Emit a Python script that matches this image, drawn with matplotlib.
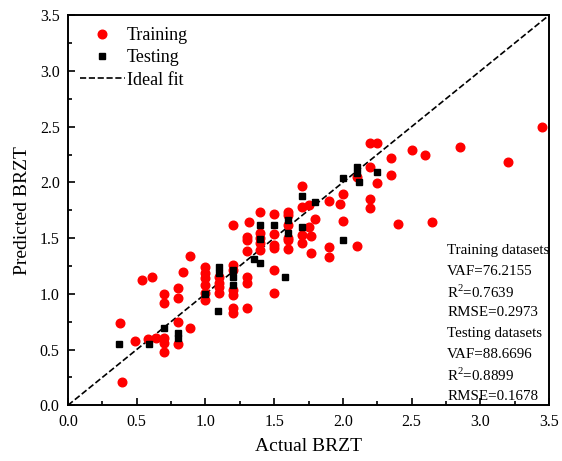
import matplotlib
matplotlib.use('Agg')
import matplotlib.pyplot as plt
from matplotlib.ticker import MultipleLocator

plt.rcParams['font.family'] = ['Liberation Serif', 'DejaVu Serif']
plt.rcParams['mathtext.fontset'] = 'custom'
plt.rcParams['mathtext.rm'] = 'Liberation Serif'

# training points (actual, predicted)
train_x = [0.38, 0.39, 0.49, 0.54, 0.61, 0.58, 0.64,
           0.70, 0.70, 0.70, 0.70, 0.70,
           0.80, 0.80, 0.80, 0.80,
           0.84, 0.89, 0.89,
           1.00, 1.00, 1.00, 1.00, 1.00, 1.00,
           1.10, 1.10, 1.10, 1.10,
           1.20, 1.20, 1.20, 1.20, 1.20, 1.20,
           1.30, 1.30, 1.30, 1.30, 1.30, 1.30,
           1.20, 1.32,
           1.40, 1.40, 1.40, 1.40, 1.40,
           1.50, 1.50, 1.50, 1.50, 1.50, 1.50,
           1.60, 1.60, 1.60, 1.60, 1.60, 1.60,
           1.70, 1.70, 1.70, 1.70,
           1.75, 1.75, 1.77, 1.77, 1.80,
           1.90, 1.90, 1.90, 1.98,
           2.00, 2.00, 2.10, 2.10,
           2.20, 2.25, 2.20, 2.25, 2.20, 2.20,
           2.35, 2.35, 2.40, 2.50, 2.60, 2.65,
           2.85, 3.20, 3.45]
train_y = [0.74, 0.21, 0.58, 1.12, 1.15, 0.59, 0.60,
           1.00, 0.92, 0.60, 0.56, 0.48,
           1.05, 0.96, 0.75, 0.55,
           1.20, 1.34, 0.69,
           1.24, 1.19, 1.14, 1.08, 1.01, 0.94,
           1.15, 1.10, 1.06, 1.01,
           1.26, 1.21, 1.03, 0.99, 0.87, 0.83,
           1.51, 1.48, 1.38, 1.15, 1.10, 0.87,
           1.62, 1.64,
           1.73, 1.55, 1.50, 1.46, 1.39,
           1.72, 1.54, 1.44, 1.41, 1.21, 1.01,
           1.73, 1.71, 1.62, 1.50, 1.48, 1.40,
           1.97, 1.78, 1.53, 1.46,
           1.80, 1.60, 1.37, 1.52, 1.67,
           1.83, 1.42, 1.33, 1.81,
           1.90, 1.65, 2.05, 1.43,
           2.35, 2.35, 2.14, 1.99, 1.85, 1.77,
           2.22, 2.07, 1.63, 2.29, 2.25, 1.64,
           2.32, 2.18, 2.50]

# testing points
test_x = [0.37, 0.59, 0.70, 0.80, 0.80,
          1.00, 1.09, 1.10, 1.10,
          1.20, 1.20, 1.20,
          1.35, 1.40, 1.40, 1.40,
          1.50, 1.58, 1.60, 1.60,
          1.70, 1.70, 1.80,
          2.00, 2.00, 2.10, 2.10, 2.12, 2.25]
test_y = [0.55, 0.55, 0.69, 0.65, 0.60,
          1.00, 0.85, 1.24, 1.19,
          1.21, 1.15, 1.08,
          1.31, 1.28, 1.62, 1.49,
          1.62, 1.15, 1.66, 1.55,
          1.88, 1.60, 1.82,
          2.04, 1.48, 2.14, 2.08, 2.00, 2.09]

stats_lines = ['Training datasets', 'VAF=76.2155', r'R$^2$=0.7639', 'RMSE=0.2973',
               'Testing datasets', 'VAF=88.6696', r'R$^2$=0.8899', 'RMSE=0.1678']

fig = plt.figure(figsize=(5.62, 4.61), dpi=100)
ax = fig.add_axes([0.121, 0.121, 0.856, 0.846])

ax.plot(train_x, train_y, 'o', color='red', markersize=6.2, label='Training', zorder=3)
ax.plot(test_x, test_y, 's', color='black', markersize=5, label='Testing', zorder=4)
ax.plot([0, 3.5], [0, 3.5], '--', color='black', linewidth=1.2, label='Ideal fit', zorder=2)

ax.set_xlim(0, 3.5)
ax.set_ylim(0, 3.5)
ax.xaxis.set_major_locator(MultipleLocator(0.5))
ax.yaxis.set_major_locator(MultipleLocator(0.5))
ax.xaxis.set_minor_locator(MultipleLocator(0.25))
ax.yaxis.set_minor_locator(MultipleLocator(0.25))
ax.xaxis.set_major_formatter(plt.FormatStrFormatter('%.1f'))
ax.yaxis.set_major_formatter(plt.FormatStrFormatter('%.1f'))
ax.tick_params(which='both', direction='in', labelsize=11.5, width=1.2, pad=6)
ax.tick_params(which='major', length=5)
ax.tick_params(which='minor', length=3)
for s in ax.spines.values():
    s.set_linewidth(1.4)

ax.set_xlabel('Actual BRZT', fontsize=14, labelpad=6)
ax.set_ylabel('Predicted BRZT', fontsize=14, labelpad=6)

ax.legend(loc='upper left', frameon=False, fontsize=13, handlelength=2.5,
          handletextpad=0.1, borderaxespad=0.25, labelspacing=0.3)

y0 = 0.397
for i, t in enumerate(stats_lines):
    ax.text(0.788, y0 - i * 0.0534, t, transform=ax.transAxes, fontsize=10.8,
            va='center', ha='left')

fig.savefig('out.png', dpi=100)
